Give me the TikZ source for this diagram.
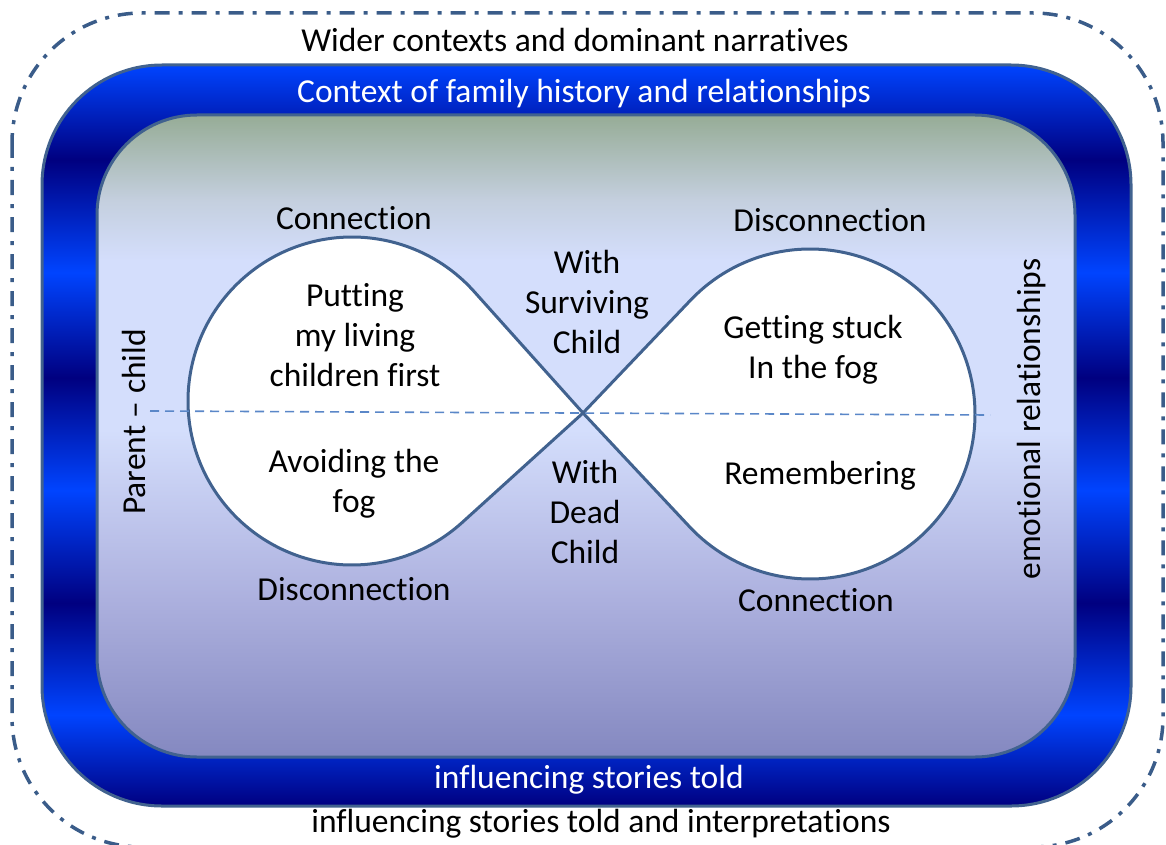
\documentclass[tikz,border=0pt]{standalone}
\usepackage{fontspec}
\setmainfont{Carlito}[Ligatures=NoCommon]
\usetikzlibrary{calc}

\definecolor{bbright}{RGB}{0,68,255}
\definecolor{bdark}{RGB}{0,0,128}
\definecolor{edgeblue}{RGB}{65,98,143}
\definecolor{dotline}{RGB}{58,92,137}
\definecolor{axisline}{RGB}{90,135,200}
\definecolor{ptop}{RGB}{150,172,150}
\definecolor{pupper}{RGB}{196,207,222}
\definecolor{pmid}{RGB}{212,222,252}
\definecolor{plow}{RGB}{172,176,222}
\definecolor{pbot}{RGB}{132,136,192}

% metallic band of the family-history frame (bottom to top)
\pgfdeclareverticalshading{metalband}{100bp}{%
  color(0bp)=(bdark); color(25bp)=(bdark);
  color(31.15bp)=(bbright); color(38.7bp)=(bdark);
  color(46.3bp)=(bbright); color(53.9bp)=(bdark);
  color(61bp)=(bbright); color(68.6bp)=(bdark);
  color(75bp)=(bbright); color(100bp)=(bbright)}

% soft panel inside the frame
\pgfdeclareverticalshading{panelfade}{100bp}{%
  color(0bp)=(pbot); color(25bp)=(pbot);
  color(37.25bp)=(plow); color(50.5bp)=(pmid);
  color(63.7bp)=(pmid); color(68.4bp)=(pupper);
  color(75bp)=(ptop); color(100bp)=(ptop)}

\tikzset{
  lbl/.style={font=\fontsize{33.5}{40}\selectfont, align=center, inner sep=0pt, text=black},
  wlbl/.style={lbl, text=white},
  lobe/.style={draw=edgeblue, line width=3pt, fill=white, line join=round},
  outerring/.style={draw=dotline, line width=3.5pt, dash pattern=on 15pt off 9pt on 4pt off 9pt},
  band/.style={draw=edgeblue, line width=3pt, shading=metalband},
  panel/.style={draw=edgeblue, line width=3pt, shading=panelfade},
  axis/.style={draw=axisline, line width=1.6pt, dash pattern=on 9pt off 6pt},
}

\begin{document}
\begin{tikzpicture}[x=1pt,y=-1pt]
  \useasboundingbox (0,0) rectangle (1166,845);

  % wider context ring
  \draw[outerring, rounded corners=130pt] (12,13) rectangle (1163,847);

  % family history frame and inner panel
  \path[band, rounded corners=120pt] (42,65) rectangle (1131,806);
  \path[panel, rounded corners=100pt] (97,115) rectangle (1075,757);

  % figure-of-eight
  \coordinate (cross) at (583,413);
  \coordinate (cL) at (352,401);
  \coordinate (cR) at (810,414);
  \draw[lobe] (cross) -- ($(cL)+(-41.9:164)$)
      arc[start angle=-41.9, end angle=-312.2, radius=164] -- cycle;
  \draw[lobe] (cross) -- ($(cR)+(223.65:165)$)
      arc[start angle=223.65, end angle=496.85, radius=165] -- cycle;

  % horizontal divide
  \coordinate (axL) at (150,411);
  \coordinate (axR) at (990,415);
  \draw[axis] (axL) -- (axR);

  % frame texts
  \node[lbl, anchor=base] (wider) at (575,52) {Wider contexts and dominant narratives};
  \node[wlbl, anchor=base] (family) at (584,103) {Context of family history and relationships};
  \node[wlbl, anchor=base] (storiesin) at (589,788) {influencing stories told};
  \node[lbl, anchor=base] (storiesout) at (601,832) {influencing stories told and interpretations};

  % side axes
  \node[lbl, anchor=base, rotate=90] (parent) at (145,422) {Parent – child};
  \node[lbl, anchor=base, rotate=90] (emotional) at (1040,419) {emotional relationships};

  % lobe labels
  \node[lbl, anchor=base] (connL) at (354,229) {Connection};
  \node[lbl, anchor=base] (disconnR) at (830,231) {Disconnection};
  \node[lbl, anchor=base] (disconnL) at (354,600) {Disconnection};
  \node[lbl, anchor=base] (connR) at (816,611) {Connection};

  \node[lbl] (surviving) at (587,302) {With\\Surviving\\Child};
  \node[lbl] (dead) at (585,512) {With\\Dead\\Child};

  \node[lbl] (putting) at (355,335) {Putting\\my living\\children first};
  \node[lbl] (avoiding) at (354,484) {Avoiding the\\fog};
  \node[lbl] (stuck) at (813,350) {Getting stuck\\In the fog};
  \node[lbl, anchor=base] (remember) at (820,484) {Remembering};
\end{tikzpicture}
\end{document}
